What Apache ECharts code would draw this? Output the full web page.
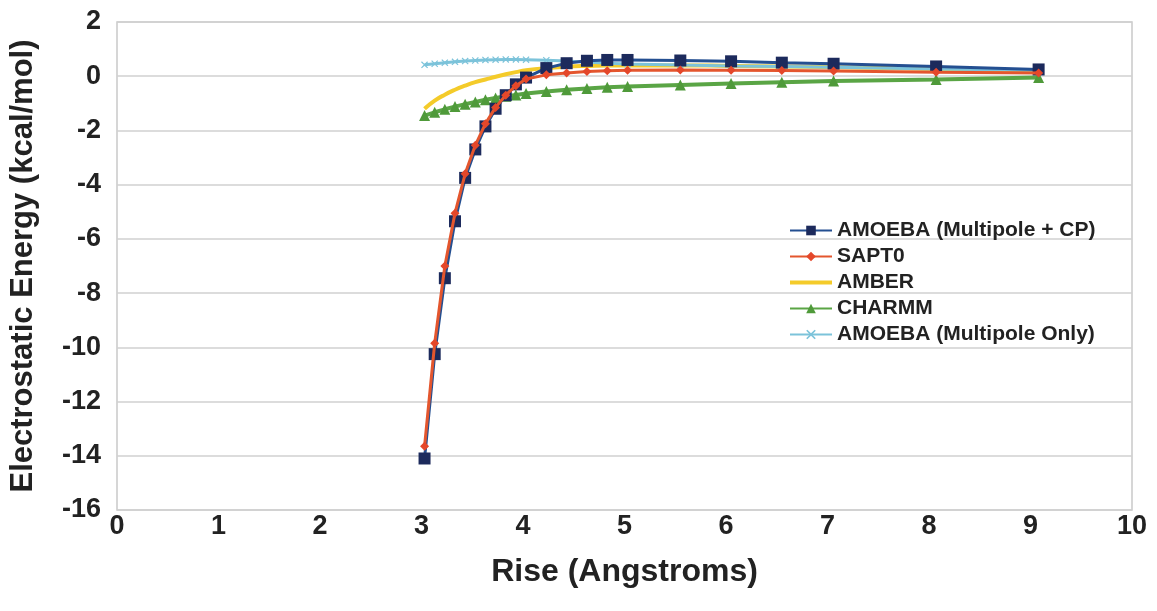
<!DOCTYPE html>
<html>
<head>
<meta charset="utf-8">
<script src="https://cdn.jsdelivr.net/npm/echarts@6/dist/echarts.min.js"></script>
<style>
html,body{margin:0;padding:0;background:#fff;}
#chart{width:1157px;height:611px;}
</style>
</head>
<body>
<div id="chart"></div>
<script>
// Rise (Angstroms)
const rise = [3.03, 3.13, 3.23, 3.33, 3.43, 3.53, 3.63, 3.73, 3.83, 3.93, 4.03, 4.23, 4.43, 4.63, 4.83, 5.03, 5.55, 6.05, 6.55, 7.06, 8.07, 9.08];
const amoebaCP = [-14.1, -10.25, -7.45, -5.35, -3.75, -2.7, -1.85, -1.2, -0.7, -0.3, -0.05, 0.3, 0.48, 0.57, 0.6, 0.6, 0.58, 0.55, 0.5, 0.46, 0.36, 0.25];
const sapt0 = [-13.65, -9.85, -7.0, -5.05, -3.6, -2.55, -1.75, -1.15, -0.7, -0.35, -0.1, 0.05, 0.12, 0.17, 0.2, 0.22, 0.23, 0.22, 0.21, 0.19, 0.15, 0.12];
const amber = [-1.2, -0.9, -0.68, -0.5, -0.35, -0.22, -0.12, -0.02, 0.07, 0.15, 0.22, 0.3, 0.35, 0.38, 0.4, 0.4, 0.4, 0.38, 0.36, 0.33, 0.27, 0.2];
const charmm = [-1.45, -1.33, -1.22, -1.12, -1.03, -0.95, -0.87, -0.8, -0.74, -0.69, -0.64, -0.56, -0.5, -0.45, -0.41, -0.38, -0.32, -0.27, -0.22, -0.18, -0.12, -0.05];
const amoebaMP = [0.42, 0.46, 0.5, 0.53, 0.56, 0.58, 0.6, 0.61, 0.62, 0.62, 0.61, 0.59, 0.56, 0.52, 0.48, 0.45, 0.41, 0.38, 0.36, 0.33, 0.27, 0.22];
const seriesNames = ['AMOEBA (Multipole + CP)', 'SAPT0', 'AMBER', 'CHARMM', 'AMOEBA (Multipole Only)'];
const xTitle = 'Rise (Angstroms)';
const yTitle = 'Electrostatic Energy (kcal/mol)';

const pair = (ys) => rise.map((x, i) => [x, ys[i]]);
const FONT = "'Liberation Sans', Arial, Helvetica, sans-serif";
const xMark = 'path://M0,1.2L1.2,0L5,3.8L8.8,0L10,1.2L6.2,5L10,8.8L8.8,10L5,6.2L1.2,10L0,8.8L3.8,5Z';

const chart = echarts.init(document.getElementById('chart'), null, {renderer: 'canvas'});
chart.setOption({
  animation: false,
  backgroundColor: '#ffffff',
  textStyle: {fontFamily: FONT},
  grid: {left: 116, right: 25, top: 22, bottom: 101, show: true, borderColor: '#c9c9c9', borderWidth: 1.5, containLabel: false},
  legend: {
    orient: 'vertical', left: 784, top: 215,
    itemWidth: 42, itemHeight: 12, itemGap: 5,
    textStyle: {fontFamily: FONT, fontWeight: 'bold', fontSize: 21, color: '#222'},
    data: [
      seriesNames[0], seriesNames[1],
      {name: seriesNames[2], icon: 'path://M0,0L42,0L42,4L0,4Z'},
      seriesNames[3], seriesNames[4]
    ]
  },
  xAxis: {
    type: 'value', min: 0, max: 10, interval: 1,
    name: xTitle, nameLocation: 'middle', nameGap: 46,
    nameTextStyle: {fontFamily: FONT, fontWeight: 'bold', fontSize: 32, color: '#222'},
    axisLine: {show: false}, axisTick: {show: false}, splitLine: {show: false},
    axisLabel: {fontFamily: FONT, fontWeight: 'bold', fontSize: 27, color: '#222', margin: 3}
  },
  yAxis: {
    type: 'value', min: -16, max: 2, interval: 2,
    name: yTitle, nameLocation: 'middle', nameGap: 78, nameRotate: 90,
    nameTextStyle: {fontFamily: FONT, fontWeight: 'bold', fontSize: 31, color: '#222'},
    axisLine: {show: false}, axisTick: {show: false},
    splitLine: {show: true, lineStyle: {color: '#d0d0d0', width: 1.5}},
    axisLabel: {fontFamily: FONT, fontWeight: 'bold', fontSize: 27, color: '#222', margin: 16}
  },
  series: [
    {name: seriesNames[2], type: 'line', data: pair(amber), z: 2, smooth: true,
     showSymbol: false, symbol: 'none', itemStyle: {color: '#f4cb2a'}, lineStyle: {color: '#f4cb2a', width: 4}},
    {name: seriesNames[4], type: 'line', data: pair(amoebaMP), z: 3,
     symbol: xMark, symbolSize: 7, itemStyle: {color: '#7cc3da'}, lineStyle: {color: '#7cc3da', width: 3}},
    {name: seriesNames[3], type: 'line', data: pair(charmm), z: 4,
     symbol: 'triangle', symbolSize: 11, itemStyle: {color: '#4f9a3a'}, lineStyle: {color: '#5aa545', width: 4}},
    {name: seriesNames[0], type: 'line', data: pair(amoebaCP), z: 5,
     symbol: 'rect', symbolSize: 12, itemStyle: {color: '#1c2a5c'}, lineStyle: {color: '#244f91', width: 3}},
    {name: seriesNames[1], type: 'line', data: pair(sapt0), z: 6,
     symbol: 'diamond', symbolSize: 9, itemStyle: {color: '#e4472a'}, lineStyle: {color: '#e4562e', width: 3}}
  ]
});
</script>
</body>
</html>
